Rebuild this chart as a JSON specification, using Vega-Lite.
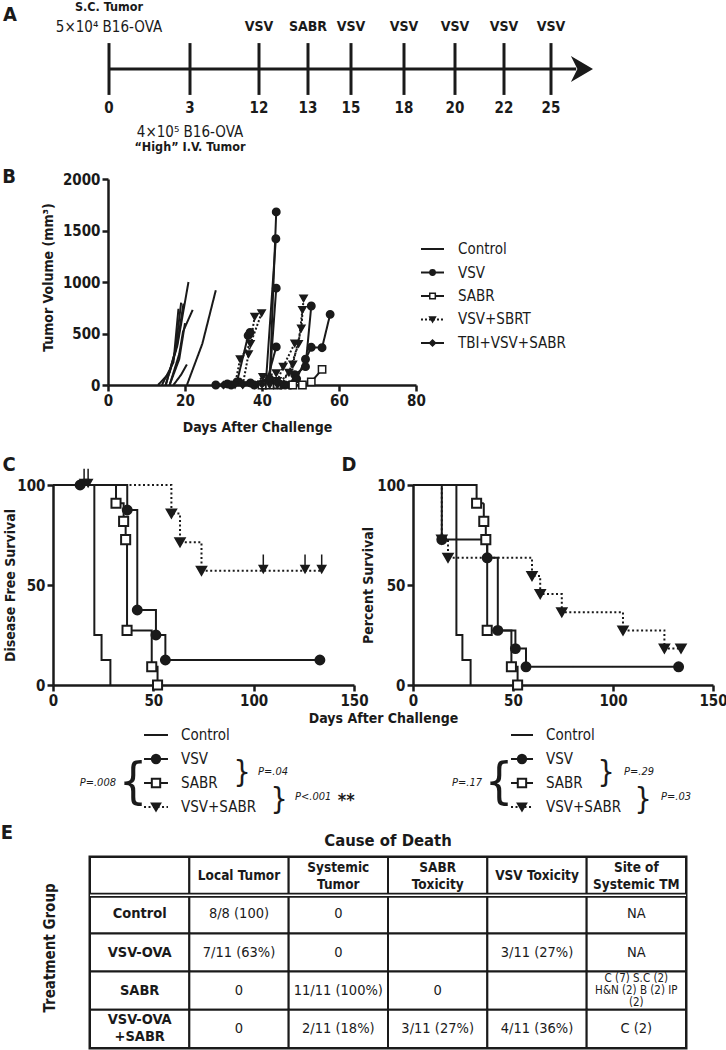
{
 "$schema": "https://vega.github.io/schema/vega-lite/v6.json",
 "padding": 0,
 "background": "white",
 "bounds": "flush",
 "spacing": 0,
 "resolve": {"scale": {"shape": "independent", "fill": "independent", "size": "independent", "strokeDash": "independent"}},
 "config": {
  "font": "Liberation Sans Narrow, DejaVu Sans Condensed, Liberation Sans, sans-serif",
  "view": {"stroke": null},
  "text": {"color": "#1a1a1a"},
  "axis": {"domainColor": "#1a1a1a", "domainWidth": 2.5, "tickColor": "#1a1a1a", "tickWidth": 2.5, "tickSize": 6, "labelFontSize": 15, "labelFontWeight": "bold", "labelColor": "#1a1a1a", "labelPadding": 2, "labelFlush": false, "labelOverlap": false, "titleFontSize": 14, "titleFontWeight": "bold", "titleColor": "#1a1a1a", "grid": false, "format": "d"},
  "title": {"color": "#1a1a1a"}
 },
 "datasets": {
  "tumor": [
   {"mouse":"c1","group":"Control","day":13,"vol":0},{"mouse":"c1","group":"Control","day":16,"vol":120},{"mouse":"c1","group":"Control","day":18,"vol":380},{"mouse":"c1","group":"Control","day":20.9,"vol":1000},
   {"mouse":"c2","group":"Control","day":14,"vol":0},{"mouse":"c2","group":"Control","day":17,"vol":220},{"mouse":"c2","group":"Control","day":18.3,"vol":740},
   {"mouse":"c3","group":"Control","day":15,"vol":0},{"mouse":"c3","group":"Control","day":17.5,"vol":330},{"mouse":"c3","group":"Control","day":19,"vol":800},
   {"mouse":"c4","group":"Control","day":15,"vol":0},{"mouse":"c4","group":"Control","day":18,"vol":400},{"mouse":"c4","group":"Control","day":19.6,"vol":790},
   {"mouse":"c5","group":"Control","day":16,"vol":0},{"mouse":"c5","group":"Control","day":18.5,"vol":300},{"mouse":"c5","group":"Control","day":19.5,"vol":520},{"mouse":"c5","group":"Control","day":22,"vol":730},
   {"mouse":"c6","group":"Control","day":16,"vol":0},{"mouse":"c6","group":"Control","day":18.5,"vol":250},{"mouse":"c6","group":"Control","day":20,"vol":600},
   {"mouse":"c7","group":"Control","day":17,"vol":0},{"mouse":"c7","group":"Control","day":19,"vol":100},{"mouse":"c7","group":"Control","day":20.5,"vol":200},
   {"mouse":"c8","group":"Control","day":20.5,"vol":0},{"mouse":"c8","group":"Control","day":24.5,"vol":400},{"mouse":"c8","group":"Control","day":28,"vol":920},
   {"mouse":"v1","group":"VSV","day":28,"vol":0},{"mouse":"v1","group":"VSV","day":31,"vol":10},{"mouse":"v1","group":"VSV","day":34,"vol":30},{"mouse":"v1","group":"VSV","day":37,"vol":20},{"mouse":"v1","group":"VSV","day":40,"vol":10},{"mouse":"v1","group":"VSV","day":42,"vol":40},{"mouse":"v1","group":"VSV","day":43.7,"vol":1680},
   {"mouse":"v2","group":"VSV","day":38,"vol":0},{"mouse":"v2","group":"VSV","day":41,"vol":20},{"mouse":"v2","group":"VSV","day":43.6,"vol":1420},
   {"mouse":"v3","group":"VSV","day":40,"vol":0},{"mouse":"v3","group":"VSV","day":42,"vol":60},{"mouse":"v3","group":"VSV","day":43.7,"vol":940},
   {"mouse":"v4","group":"VSV","day":41,"vol":0},{"mouse":"v4","group":"VSV","day":43.7,"vol":370},
   {"mouse":"v5","group":"VSV","day":32,"vol":0},{"mouse":"v5","group":"VSV","day":33.5,"vol":30},{"mouse":"v5","group":"VSV","day":36.4,"vol":480},{"mouse":"v5","group":"VSV","day":36.9,"vol":510},
   {"mouse":"v6","group":"VSV","day":45,"vol":0},{"mouse":"v6","group":"VSV","day":47.3,"vol":0},{"mouse":"v6","group":"VSV","day":48.5,"vol":100},{"mouse":"v6","group":"VSV","day":51.3,"vol":178},{"mouse":"v6","group":"VSV","day":52.8,"vol":767},
   {"mouse":"v7","group":"VSV","day":46,"vol":0},{"mouse":"v7","group":"VSV","day":49,"vol":60},{"mouse":"v7","group":"VSV","day":51.3,"vol":250},{"mouse":"v7","group":"VSV","day":52.8,"vol":366},{"mouse":"v7","group":"VSV","day":55.6,"vol":362},{"mouse":"v7","group":"VSV","day":57.7,"vol":686},
   {"mouse":"s1","group":"SABR","day":44,"vol":0},{"mouse":"s1","group":"SABR","day":48,"vol":0},{"mouse":"s1","group":"SABR","day":50.5,"vol":0},{"mouse":"s1","group":"SABR","day":52.8,"vol":30},{"mouse":"s1","group":"SABR","day":55.6,"vol":152},
   {"mouse":"s2","group":"SABR","day":40,"vol":0},{"mouse":"s2","group":"SABR","day":42,"vol":0},{"mouse":"s2","group":"SABR","day":44,"vol":5},
   {"mouse":"t1","group":"VSV+SBRT","day":33,"vol":0},{"mouse":"t1","group":"VSV+SBRT","day":34.3,"vol":252},{"mouse":"t1","group":"VSV+SBRT","day":37,"vol":400},{"mouse":"t1","group":"VSV+SBRT","day":39.9,"vol":698},
   {"mouse":"t2","group":"VSV+SBRT","day":35,"vol":0},{"mouse":"t2","group":"VSV+SBRT","day":36.5,"vol":300},{"mouse":"t2","group":"VSV+SBRT","day":38.1,"vol":663},
   {"mouse":"t3","group":"VSV+SBRT","day":42,"vol":0},{"mouse":"t3","group":"VSV+SBRT","day":44,"vol":40},{"mouse":"t3","group":"VSV+SBRT","day":45.5,"vol":178},{"mouse":"t3","group":"VSV+SBRT","day":48.5,"vol":404},
   {"mouse":"t4","group":"VSV+SBRT","day":44,"vol":0},{"mouse":"t4","group":"VSV+SBRT","day":47,"vol":120},{"mouse":"t4","group":"VSV+SBRT","day":49.5,"vol":400},{"mouse":"t4","group":"VSV+SBRT","day":50.5,"vol":730},
   {"mouse":"t5","group":"VSV+SBRT","day":45,"vol":0},{"mouse":"t5","group":"VSV+SBRT","day":48,"vol":200},{"mouse":"t5","group":"VSV+SBRT","day":50.2,"vol":550},{"mouse":"t5","group":"VSV+SBRT","day":50.8,"vol":840},
   {"mouse":"t6","group":"VSV+SBRT","day":38,"vol":0},{"mouse":"t6","group":"VSV+SBRT","day":40.2,"vol":80},{"mouse":"t6","group":"VSV+SBRT","day":43.7,"vol":115},
   {"mouse":"b1","group":"TBI+VSV+SABR","day":30,"vol":0},{"mouse":"b1","group":"TBI+VSV+SABR","day":35,"vol":5},{"mouse":"b1","group":"TBI+VSV+SABR","day":40,"vol":10},{"mouse":"b1","group":"TBI+VSV+SABR","day":44,"vol":20}
  ],
  "kmC": [
   {"group":"Control","day":0,"pct":100,"mk":""},{"group":"Control","day":20.6,"pct":25,"mk":""},{"group":"Control","day":24.2,"pct":12.5,"mk":""},{"group":"Control","day":28.6,"pct":0,"mk":""},
   {"group":"VSV","day":0,"pct":100,"mk":""},{"group":"VSV","day":13.5,"pct":100,"mk":"sym"},{"group":"VSV","day":37,"pct":87.5,"mk":"sym"},{"group":"VSV","day":42,"pct":37.5,"mk":"sym"},{"group":"VSV","day":51.3,"pct":25,"mk":"sym"},{"group":"VSV","day":56,"pct":12.5,"mk":"sym"},{"group":"VSV","day":133,"pct":12.5,"mk":"sym"},
   {"group":"SABR","day":0,"pct":100,"mk":""},{"group":"SABR","day":31.4,"pct":90.9,"mk":"sym"},{"group":"SABR","day":35.2,"pct":81.8,"mk":"sym"},{"group":"SABR","day":36.2,"pct":72.7,"mk":"sym"},{"group":"SABR","day":36.9,"pct":27.3,"mk":"sym"},{"group":"SABR","day":49.2,"pct":9.1,"mk":"sym"},{"group":"SABR","day":52.1,"pct":0,"mk":"sym"},
   {"group":"VSV+SABR","day":0,"pct":100,"mk":""},{"group":"VSV+SABR","day":15.5,"pct":100,"mk":"cens"},{"group":"VSV+SABR","day":17.5,"pct":100,"mk":"cens"},{"group":"VSV+SABR","day":59,"pct":85.7,"mk":"sym"},{"group":"VSV+SABR","day":63.3,"pct":71.4,"mk":"sym"},{"group":"VSV+SABR","day":74,"pct":57.1,"mk":"sym"},{"group":"VSV+SABR","day":104.8,"pct":57.1,"mk":"cens"},{"group":"VSV+SABR","day":125.6,"pct":57.1,"mk":"cens"},{"group":"VSV+SABR","day":133.9,"pct":57.1,"mk":"cens"}
  ],
  "kmD": [
   {"group":"Control","day":0,"pct":100,"mk":""},{"group":"Control","day":21.7,"pct":25,"mk":""},{"group":"Control","day":24.7,"pct":12.5,"mk":""},{"group":"Control","day":28.8,"pct":0,"mk":""},
   {"group":"VSV","day":0,"pct":100,"mk":""},{"group":"VSV","day":14.4,"pct":72.7,"mk":"sym"},{"group":"VSV","day":37.1,"pct":63.6,"mk":"sym"},{"group":"VSV","day":42.4,"pct":27.3,"mk":"sym"},{"group":"VSV","day":51.2,"pct":18.2,"mk":"sym"},{"group":"VSV","day":56.5,"pct":9.1,"mk":"sym"},{"group":"VSV","day":132.8,"pct":9.1,"mk":"sym"},
   {"group":"SABR","day":0,"pct":100,"mk":""},{"group":"SABR","day":31.8,"pct":90.9,"mk":"sym"},{"group":"SABR","day":35.4,"pct":81.8,"mk":"sym"},{"group":"SABR","day":36.4,"pct":72.7,"mk":"sym"},{"group":"SABR","day":37.1,"pct":27.3,"mk":"sym"},{"group":"SABR","day":49.2,"pct":9.1,"mk":"sym"},{"group":"SABR","day":52.3,"pct":0,"mk":"sym"},
   {"group":"VSV+SABR","day":0,"pct":100,"mk":""},{"group":"VSV+SABR","day":14.4,"pct":72.7,"mk":"sym"},{"group":"VSV+SABR","day":17.5,"pct":63.6,"mk":"sym"},{"group":"VSV+SABR","day":59.5,"pct":54.5,"mk":"sym"},{"group":"VSV+SABR","day":63.6,"pct":45.5,"mk":"sym"},{"group":"VSV+SABR","day":74.4,"pct":36.4,"mk":"sym"},{"group":"VSV+SABR","day":105,"pct":27.3,"mk":"sym"},{"group":"VSV+SABR","day":125.7,"pct":18.2,"mk":"sym"},{"group":"VSV+SABR","day":134,"pct":18.2,"mk":"sym"}
  ],
  "legB": [
   {"group":"Control","order":0},{"group":"VSV","order":1},{"group":"SABR","order":2},{"group":"VSV+SBRT","order":3},{"group":"TBI+VSV+SABR","order":4}
  ],
  "legCD": [
   {"group":"Control","order":0},{"group":"VSV","order":1},{"group":"SABR","order":2},{"group":"VSV+SABR","order":3}
  ],
  "table": [
   {"row":"r0","col":"c0","txt":"","kind":"head"},
   {"row":"r0","col":"c1","txt":"Local Tumor","kind":"head"},
   {"row":"r0","col":"c2","txt":["Systemic","Tumor"],"kind":"head2"},
   {"row":"r0","col":"c3","txt":["SABR","Toxicity"],"kind":"head2"},
   {"row":"r0","col":"c4","txt":"VSV Toxicity","kind":"head"},
   {"row":"r0","col":"c5","txt":["Site of","Systemic TM"],"kind":"head2"},
   {"row":"r1","col":"c0","txt":"Control","kind":"rowlab"},
   {"row":"r1","col":"c1","txt":"8/8 (100)","kind":"body"},
   {"row":"r1","col":"c2","txt":"0","kind":"body"},
   {"row":"r1","col":"c3","txt":"","kind":"body"},
   {"row":"r1","col":"c4","txt":"","kind":"body"},
   {"row":"r1","col":"c5","txt":"NA","kind":"body"},
   {"row":"r2","col":"c0","txt":"VSV-OVA","kind":"rowlab"},
   {"row":"r2","col":"c1","txt":"7/11 (63%)","kind":"body"},
   {"row":"r2","col":"c2","txt":"0","kind":"body"},
   {"row":"r2","col":"c3","txt":"","kind":"body"},
   {"row":"r2","col":"c4","txt":"3/11 (27%)","kind":"body"},
   {"row":"r2","col":"c5","txt":"NA","kind":"body"},
   {"row":"r3","col":"c0","txt":"SABR","kind":"rowlab"},
   {"row":"r3","col":"c1","txt":"0","kind":"body"},
   {"row":"r3","col":"c2","txt":"11/11 (100%)","kind":"body"},
   {"row":"r3","col":"c3","txt":"0","kind":"body"},
   {"row":"r3","col":"c4","txt":"","kind":"body"},
   {"row":"r3","col":"c5","txt":["C (7) S.C (2)","H&N (2) B (2) IP","(2)"],"kind":"small"},
   {"row":"r4","col":"c0","txt":["VSV-OVA","+SABR"],"kind":"rowlab2"},
   {"row":"r4","col":"c1","txt":"0","kind":"body"},
   {"row":"r4","col":"c2","txt":"2/11 (18%)","kind":"body"},
   {"row":"r4","col":"c3","txt":"3/11 (27%)","kind":"body"},
   {"row":"r4","col":"c4","txt":"4/11 (36%)","kind":"body"},
   {"row":"r4","col":"c5","txt":"C (2)","kind":"body"}
  ]
 },
 "vconcat": [
  {
   "width": 726, "height": 179,
   "layer": [
    {"data": {"values": [{"k": 1}]}, "mark": {"type": "rule", "strokeWidth": 3, "color": "#1a1a1a"},
     "encoding": {"x": {"datum": 0, "type": "quantitative", "scale": {"type": "linear", "domain": [-10,0,3,12,13,15,18,20,22,25,27], "range": [9,108,189,258,307,350,403,454,503,550,592], "nice": false, "zero": false}, "axis": null}, "x2": {"datum": 26.2},
      "y": {"datum": 0, "type": "quantitative", "scale": {"type": "linear", "domain": [-4.074, 2.556], "nice": false, "zero": false}, "axis": null}}},
    {"data": {"values": [{"day":0},{"day":3},{"day":12},{"day":13},{"day":15},{"day":18},{"day":20},{"day":22},{"day":25}]},
     "layer": [
      {"mark": {"type": "rule", "strokeWidth": 3, "color": "#1a1a1a"},
       "encoding": {"x": {"field": "day", "type": "quantitative", "axis": null}, "y": {"datum": -0.96, "type": "quantitative", "axis": null}, "y2": {"datum": 0.96}}},
      {"mark": {"type": "text", "fontSize": 15, "fontWeight": "bold", "baseline": "middle"},
       "encoding": {"x": {"field": "day", "type": "quantitative", "axis": null}, "y": {"datum": -1.444, "type": "quantitative", "axis": null}, "text": {"field": "day", "type": "quantitative"}}}
     ]},
    {"data": {"values": [{"day":12,"event":"VSV"},{"day":13,"event":"SABR"},{"day":15,"event":"VSV"},{"day":18,"event":"VSV"},{"day":20,"event":"VSV"},{"day":22,"event":"VSV"},{"day":25,"event":"VSV"}]},
     "mark": {"type": "text", "fontSize": 14, "fontWeight": "bold", "baseline": "middle"},
     "encoding": {"x": {"field": "day", "type": "quantitative", "axis": null}, "y": {"datum": 1.556, "type": "quantitative", "axis": null}, "text": {"field": "event"}}},
    {"data": {"values": [{"k": 1}]}, "mark": {"type": "point", "shape": "M-1.7,-1L0,0L-1.7,1L-1.2,0Z", "size": 676, "filled": true, "color": "#1a1a1a", "opacity": 1},
     "encoding": {"x": {"datum": 27, "type": "quantitative", "axis": null}, "y": {"datum": 0, "type": "quantitative", "axis": null}}},
    {"data": {"values": [{"t": "S.C. Tumor"}]}, "mark": {"type": "text", "fontSize": 12.5, "fontWeight": "bold", "baseline": "top"},
     "encoding": {"x": {"datum": 0, "type": "quantitative", "axis": null}, "y": {"datum": 2.53, "type": "quantitative", "axis": null}, "text": {"field": "t"}}},
    {"data": {"values": [{"t": "5×10⁴ B16-OVA"}]}, "mark": {"type": "text", "fontSize": 15, "baseline": "middle"},
     "encoding": {"x": {"datum": 0, "type": "quantitative", "axis": null}, "y": {"datum": 1.556, "type": "quantitative", "axis": null}, "text": {"field": "t"}}},
    {"data": {"values": [{"t": "4×10⁵ B16-OVA"}]}, "mark": {"type": "text", "fontSize": 15, "baseline": "middle"},
     "encoding": {"x": {"datum": 3, "type": "quantitative", "axis": null}, "y": {"datum": -2.333, "type": "quantitative", "axis": null}, "text": {"field": "t"}}},
    {"data": {"values": [{"t": "“High” I.V. Tumor"}]}, "mark": {"type": "text", "fontSize": 12.5, "fontWeight": "bold", "baseline": "middle"},
     "encoding": {"x": {"datum": 3, "type": "quantitative", "axis": null}, "y": {"datum": -2.889, "type": "quantitative", "axis": null}, "text": {"field": "t"}}},
    {"data": {"values": [{"t": "A"}]}, "mark": {"type": "text", "fontSize": 20, "fontWeight": "bold", "baseline": "middle"},
     "encoding": {"x": {"datum": -10, "type": "quantitative", "axis": null}, "y": {"datum": 2.0, "type": "quantitative", "axis": null}, "text": {"field": "t"}}}
   ]
  },
  {
   "bounds": "flush", "spacing": 0,
   "hconcat": [
    {"width": 107, "height": 206, "data": {"values": [{"t": "B"}]},
     "mark": {"type": "text", "fontSize": 20, "fontWeight": "bold", "baseline": "middle"},
     "encoding": {"x": {"datum": 0.075, "type": "quantitative", "scale": {"domain": [0,1], "nice": false, "zero": false}, "axis": null},
      "y": {"datum": 1.01, "type": "quantitative", "scale": {"domain": [0,1], "nice": false, "zero": false}, "axis": null}, "text": {"field": "t"}}},
    {"width": 308, "height": 206, "data": {"name": "tumor"},
     "layer": [
      {"mark": {"type": "line", "strokeWidth": 2, "color": "#1a1a1a"},
       "encoding": {
        "x": {"field": "day", "type": "quantitative", "scale": {"domain": [0,80], "nice": false, "zero": false}, "axis": {"values": [0,20,40,60,80], "title": "Days After Challenge", "titleX": 149, "titleY": 42, "titleBaseline": "middle", "titleAlign": "center"}},
        "y": {"field": "vol", "type": "quantitative", "scale": {"domain": [0,2000], "nice": false, "zero": false}, "axis": {"values": [0,500,1000,1500,2000], "title": "Tumor Volume (mm³)", "titleX": -60, "titleY": 98, "titleBaseline": "middle", "titleAlign": "center", "titleAngle": 270}},
        "detail": {"field": "mouse"},
        "strokeDash": {"field": "group", "type": "nominal", "scale": {"domain": ["Control","VSV","SABR","VSV+SBRT","TBI+VSV+SABR"], "range": [[1,0],[1,0],[1,0],[2,2],[1,0]]}, "legend": null}}},
      {"transform": [{"filter": "datum.group != 'Control'"}],
       "mark": {"type": "point", "filled": true, "opacity": 1, "stroke": "#1a1a1a", "strokeWidth": 1.5},
       "encoding": {
        "x": {"field": "day", "type": "quantitative"},
        "y": {"field": "vol", "type": "quantitative"},
        "shape": {"field": "group", "type": "nominal", "scale": {"domain": ["VSV","SABR","VSV+SBRT","TBI+VSV+SABR"], "range": ["circle","square","triangle-down","diamond"]}, "legend": null},
        "fill": {"field": "group", "type": "nominal", "scale": {"domain": ["VSV","SABR","VSV+SBRT","TBI+VSV+SABR"], "range": ["#1a1a1a","white","#1a1a1a","#1a1a1a"]}, "legend": null},
        "size": {"field": "group", "type": "nominal", "scale": {"domain": ["VSV","SABR","VSV+SBRT","TBI+VSV+SABR"], "range": [55,50,40,15]}, "legend": null}}}
     ]}
   ]
  },
  {"width": 726, "height": 306, "data": {"name": "legB"},
   "layer": [
    {"mark": {"type": "rule", "strokeWidth": 2, "color": "#1a1a1a"},
     "encoding": {"x": {"datum": 57.85, "type": "quantitative", "scale": {"domain": [0,100], "nice": false, "zero": false}, "axis": null}, "x2": {"datum": 61.02},
      "y": {"field": "order", "type": "quantitative", "scale": {"domain": [-2.979, 10.043], "reverse": true, "nice": false, "zero": false}, "axis": null},
      "strokeDash": {"field": "group", "type": "nominal", "scale": {"domain": ["Control","VSV","SABR","VSV+SBRT","TBI+VSV+SABR"], "range": [[1,0],[1,0],[1,0],[2,2],[1,0]]}, "legend": null}}},
    {"transform": [{"filter": "datum.group != 'Control'"}],
     "mark": {"type": "point", "filled": true, "opacity": 1, "stroke": "#1a1a1a", "strokeWidth": 1.5},
     "encoding": {"x": {"datum": 59.44, "type": "quantitative", "axis": null}, "y": {"field": "order", "type": "quantitative", "axis": null},
      "shape": {"field": "group", "type": "nominal", "scale": {"domain": ["VSV","SABR","VSV+SBRT","TBI+VSV+SABR"], "range": ["circle","square","triangle-down","diamond"]}, "legend": null},
      "fill": {"field": "group", "type": "nominal", "scale": {"domain": ["VSV","SABR","VSV+SBRT","TBI+VSV+SABR"], "range": ["#1a1a1a","white","#1a1a1a","#1a1a1a"]}, "legend": null},
      "size": {"field": "group", "type": "nominal", "scale": {"domain": ["VSV","SABR","VSV+SBRT","TBI+VSV+SABR"], "range": [28,36,20,12]}, "legend": null}}},
    {"mark": {"type": "text", "fontSize": 15, "align": "left", "baseline": "middle"},
     "encoding": {"x": {"datum": 62.95, "type": "quantitative", "axis": null}, "y": {"field": "order", "type": "quantitative", "axis": null}, "text": {"field": "group"}}}
   ]
  },
  {
   "bounds": "flush", "spacing": 0,
   "hconcat": [
    {"width": 52, "height": 200, "data": {"values": [{"t": "C"}]},
     "mark": {"type": "text", "fontSize": 20, "fontWeight": "bold", "baseline": "middle"},
     "encoding": {"x": {"datum": 0.154, "type": "quantitative", "scale": {"domain": [0,1], "nice": false, "zero": false}, "axis": null},
      "y": {"datum": 1.10, "type": "quantitative", "scale": {"domain": [0,1], "nice": false, "zero": false}, "axis": null}, "text": {"field": "t"}}},
    {"width": 301, "height": 200, "data": {"name": "kmC"},
     "layer": [
      {"mark": {"type": "line", "interpolate": "step-after", "strokeWidth": 2, "color": "#1a1a1a"},
       "encoding": {
        "x": {"field": "day", "type": "quantitative", "scale": {"domain": [0,150], "nice": false, "zero": false}, "axis": {"values": [0,50,100,150], "title": "Days After Challenge", "titleX": 330, "titleY": 33, "titleBaseline": "middle", "titleAlign": "center"}},
        "y": {"field": "pct", "type": "quantitative", "scale": {"domain": [0,100], "nice": false, "zero": false}, "axis": {"values": [0,50,100], "title": "Disease Free Survival", "titleX": -43, "titleY": 100, "titleBaseline": "middle", "titleAlign": "center", "titleAngle": 270}},
        "detail": {"field": "group"},
        "strokeDash": {"field": "group", "type": "nominal", "scale": {"domain": ["Control","VSV","SABR","VSV+SABR"], "range": [[1,0],[1,0],[1,0],[2,2.5]]}, "legend": null}}},
      {"transform": [{"filter": "datum.mk == 'sym'"}],
       "mark": {"type": "point", "filled": true, "opacity": 1, "stroke": "#1a1a1a", "strokeWidth": 2},
       "encoding": {"x": {"field": "day", "type": "quantitative"}, "y": {"field": "pct", "type": "quantitative"},
        "shape": {"field": "group", "type": "nominal", "scale": {"domain": ["VSV","SABR","VSV+SABR"], "range": ["circle","square","triangle-down"]}, "legend": null},
        "fill": {"field": "group", "type": "nominal", "scale": {"domain": ["VSV","SABR","VSV+SABR"], "range": ["#1a1a1a","white","#1a1a1a"]}, "legend": null},
        "size": {"field": "group", "type": "nominal", "scale": {"domain": ["VSV","SABR","VSV+SABR"], "range": [80,85,65]}, "legend": null}}},
      {"transform": [{"filter": "datum.mk == 'cens'"}],
       "mark": {"type": "point", "shape": "M0,-1.8L0,-0.4M-0.45,-0.6L0.45,-0.6L0,0.2Z", "size": 324, "filled": true, "opacity": 1, "color": "#1a1a1a", "stroke": "#1a1a1a", "strokeWidth": 1.5},
       "encoding": {"x": {"field": "day", "type": "quantitative"}, "y": {"field": "pct", "type": "quantitative"}}}
     ]},
    {"width": 59, "height": 200, "data": {"values": [{"t": "D"}]},
     "mark": {"type": "text", "fontSize": 20, "fontWeight": "bold", "baseline": "middle"},
     "encoding": {"x": {"datum": -0.085, "type": "quantitative", "scale": {"domain": [0,1], "nice": false, "zero": false}, "axis": null},
      "y": {"datum": 1.10, "type": "quantitative", "scale": {"domain": [0,1], "nice": false, "zero": false}, "axis": null}, "text": {"field": "t"}}},
    {"width": 300, "height": 200, "data": {"name": "kmD"},
     "layer": [
      {"mark": {"type": "line", "interpolate": "step-after", "strokeWidth": 2, "color": "#1a1a1a"},
       "encoding": {
        "x": {"field": "day", "type": "quantitative", "scale": {"domain": [0,150], "nice": false, "zero": false}, "axis": {"values": [0,50,100,150], "title": null}},
        "y": {"field": "pct", "type": "quantitative", "scale": {"domain": [0,100], "nice": false, "zero": false}, "axis": {"values": [0,50,100], "title": "Percent Survival", "titleX": -45, "titleY": 100, "titleBaseline": "middle", "titleAlign": "center", "titleAngle": 270}},
        "detail": {"field": "group"},
        "strokeDash": {"field": "group", "type": "nominal", "scale": {"domain": ["Control","VSV","SABR","VSV+SABR"], "range": [[1,0],[1,0],[1,0],[2,2.5]]}, "legend": null}}},
      {"transform": [{"filter": "datum.mk == 'sym'"}],
       "mark": {"type": "point", "filled": true, "opacity": 1, "stroke": "#1a1a1a", "strokeWidth": 2},
       "encoding": {"x": {"field": "day", "type": "quantitative"}, "y": {"field": "pct", "type": "quantitative"},
        "shape": {"field": "group", "type": "nominal", "scale": {"domain": ["VSV","SABR","VSV+SABR"], "range": ["circle","square","triangle-down"]}, "legend": null},
        "fill": {"field": "group", "type": "nominal", "scale": {"domain": ["VSV","SABR","VSV+SABR"], "range": ["#1a1a1a","white","#1a1a1a"]}, "legend": null},
        "size": {"field": "group", "type": "nominal", "scale": {"domain": ["VSV","SABR","VSV+SABR"], "range": [80,85,65]}, "legend": null}}}
     ]}
   ]
  },
  {
   "width": 726, "height": 372, "data": {"name": "legCD"},
   "layer": [
    {"mark": {"type": "rule", "strokeWidth": 2, "color": "#1a1a1a"},
     "encoding": {"x": {"datum": 19.7, "type": "quantitative", "scale": {"domain": [0,100], "nice": false, "zero": false}, "axis": null}, "x2": {"datum": 23.0},
      "y": {"field": "order", "type": "quantitative", "scale": {"domain": [-10.4167, 5.0833], "reverse": true, "nice": false, "zero": false}, "axis": null},
      "strokeDash": {"field": "group", "type": "nominal", "scale": {"domain": ["Control","VSV","SABR","VSV+SABR"], "range": [[1,0],[1,0],[1,0],[2,2.5]]}, "legend": null}}},
    {"mark": {"type": "rule", "strokeWidth": 2, "color": "#1a1a1a"},
     "encoding": {"x": {"datum": 70.25, "type": "quantitative", "axis": null}, "x2": {"datum": 73.28},
      "y": {"field": "order", "type": "quantitative", "axis": null},
      "strokeDash": {"field": "group", "type": "nominal", "legend": null}}},
    {"transform": [{"filter": "datum.group != 'Control'"}],
     "mark": {"type": "point", "filled": true, "opacity": 1, "stroke": "#1a1a1a", "strokeWidth": 2},
     "encoding": {"x": {"datum": 21.35, "type": "quantitative", "axis": null}, "y": {"field": "order", "type": "quantitative", "axis": null},
      "shape": {"field": "group", "type": "nominal", "scale": {"domain": ["VSV","SABR","VSV+SABR"], "range": ["circle","square","triangle-down"]}, "legend": null},
      "fill": {"field": "group", "type": "nominal", "scale": {"domain": ["VSV","SABR","VSV+SABR"], "range": ["#1a1a1a","white","#1a1a1a"]}, "legend": null},
      "size": {"field": "group", "type": "nominal", "scale": {"domain": ["VSV","SABR","VSV+SABR"], "range": [70,70,55]}, "legend": null}}},
    {"transform": [{"filter": "datum.group != 'Control'"}],
     "mark": {"type": "point", "filled": true, "opacity": 1, "stroke": "#1a1a1a", "strokeWidth": 2},
     "encoding": {"x": {"datum": 71.76, "type": "quantitative", "axis": null}, "y": {"field": "order", "type": "quantitative", "axis": null},
      "shape": {"field": "group", "type": "nominal", "legend": null},
      "fill": {"field": "group", "type": "nominal", "legend": null},
      "size": {"field": "group", "type": "nominal", "legend": null}}},
    {"mark": {"type": "text", "fontSize": 15, "align": "left", "baseline": "middle"},
     "encoding": {"x": {"datum": 24.79, "type": "quantitative", "axis": null}, "y": {"field": "order", "type": "quantitative", "axis": null}, "text": {"field": "group"}}},
    {"mark": {"type": "text", "fontSize": 15, "align": "left", "baseline": "middle"},
     "encoding": {"x": {"datum": 75.07, "type": "quantitative", "axis": null}, "y": {"field": "order", "type": "quantitative", "axis": null}, "text": {"field": "group"}}},
    {"data": {"values": [{"t": "P=.008"}]}, "mark": {"type": "text", "fontSize": 11, "fontStyle": "italic", "align": "right", "baseline": "middle"},
     "encoding": {"x": {"datum": 15.84, "type": "quantitative", "axis": null}, "y": {"datum": 2, "type": "quantitative", "axis": null}, "text": {"field": "t"}}},
    {"data": {"values": [{"t": "{"}]}, "mark": {"type": "text", "fontSize": 50, "align": "center", "baseline": "middle"},
     "encoding": {"x": {"datum": 18.18, "type": "quantitative", "axis": null}, "y": {"datum": 2, "type": "quantitative", "axis": null}, "text": {"field": "t"}}},
    {"data": {"values": [{"t": "}"}]}, "mark": {"type": "text", "fontSize": 30, "align": "center", "baseline": "middle"},
     "encoding": {"x": {"datum": 33.2, "type": "quantitative", "axis": null}, "y": {"datum": 1.58, "type": "quantitative", "axis": null}, "text": {"field": "t"}}},
    {"data": {"values": [{"t": "P=.04"}]}, "mark": {"type": "text", "fontSize": 11, "fontStyle": "italic", "align": "left", "baseline": "middle"},
     "encoding": {"x": {"datum": 35.4, "type": "quantitative", "axis": null}, "y": {"datum": 1.54, "type": "quantitative", "axis": null}, "text": {"field": "t"}}},
    {"data": {"values": [{"t": "}"}]}, "mark": {"type": "text", "fontSize": 30, "align": "center", "baseline": "middle"},
     "encoding": {"x": {"datum": 38.29, "type": "quantitative", "axis": null}, "y": {"datum": 2.71, "type": "quantitative", "axis": null}, "text": {"field": "t"}}},
    {"data": {"values": [{"t": "P<.001"}]}, "mark": {"type": "text", "fontSize": 11, "fontStyle": "italic", "align": "left", "baseline": "middle"},
     "encoding": {"x": {"datum": 40.5, "type": "quantitative", "axis": null}, "y": {"datum": 2.58, "type": "quantitative", "axis": null}, "text": {"field": "t"}}},
    {"data": {"values": [{"t": "**"}]}, "mark": {"type": "text", "fontSize": 18, "fontWeight": "bold", "align": "left", "baseline": "middle"},
     "encoding": {"x": {"datum": 46.4, "type": "quantitative", "axis": null}, "y": {"datum": 2.75, "type": "quantitative", "axis": null}, "text": {"field": "t"}}},
    {"data": {"values": [{"t": "P=.17"}]}, "mark": {"type": "text", "fontSize": 11, "fontStyle": "italic", "align": "right", "baseline": "middle"},
     "encoding": {"x": {"datum": 66.25, "type": "quantitative", "axis": null}, "y": {"datum": 2, "type": "quantitative", "axis": null}, "text": {"field": "t"}}},
    {"data": {"values": [{"t": "{"}]}, "mark": {"type": "text", "fontSize": 50, "align": "center", "baseline": "middle"},
     "encoding": {"x": {"datum": 68.6, "type": "quantitative", "axis": null}, "y": {"datum": 2, "type": "quantitative", "axis": null}, "text": {"field": "t"}}},
    {"data": {"values": [{"t": "}"}]}, "mark": {"type": "text", "fontSize": 30, "align": "center", "baseline": "middle"},
     "encoding": {"x": {"datum": 83.33, "type": "quantitative", "axis": null}, "y": {"datum": 1.58, "type": "quantitative", "axis": null}, "text": {"field": "t"}}},
    {"data": {"values": [{"t": "P=.29"}]}, "mark": {"type": "text", "fontSize": 11, "fontStyle": "italic", "align": "left", "baseline": "middle"},
     "encoding": {"x": {"datum": 85.81, "type": "quantitative", "axis": null}, "y": {"datum": 1.54, "type": "quantitative", "axis": null}, "text": {"field": "t"}}},
    {"data": {"values": [{"t": "}"}]}, "mark": {"type": "text", "fontSize": 30, "align": "center", "baseline": "middle"},
     "encoding": {"x": {"datum": 88.43, "type": "quantitative", "axis": null}, "y": {"datum": 2.71, "type": "quantitative", "axis": null}, "text": {"field": "t"}}},
    {"data": {"values": [{"t": "P=.03"}]}, "mark": {"type": "text", "fontSize": 11, "fontStyle": "italic", "align": "left", "baseline": "middle"},
     "encoding": {"x": {"datum": 90.91, "type": "quantitative", "axis": null}, "y": {"datum": 2.58, "type": "quantitative", "axis": null}, "text": {"field": "t"}}}
   ]
  },
  {
   "bounds": "flush", "spacing": 0,
   "hconcat": [
    {"width": 89, "height": 191,
     "layer": [
      {"data": {"values": [{"t": "E"}]}, "mark": {"type": "text", "fontSize": 20, "fontWeight": "bold", "baseline": "middle"},
       "encoding": {"x": {"datum": 0.067, "type": "quantitative", "scale": {"domain": [0,1], "nice": false, "zero": false}, "axis": null},
        "y": {"datum": 1.126, "type": "quantitative", "scale": {"domain": [0,1], "nice": false, "zero": false}, "axis": null}, "text": {"field": "t"}}},
      {"data": {"values": [{"t": "Treatment Group"}]}, "mark": {"type": "text", "fontSize": 15, "fontWeight": "bold", "baseline": "middle", "angle": 270},
       "encoding": {"x": {"datum": 0.55, "type": "quantitative", "axis": null}, "y": {"datum": 0.524, "type": "quantitative", "axis": null}, "text": {"field": "t"}}}
     ]},
    {"width": 596, "height": 191, "data": {"name": "table"},
     "title": {"text": "Cause of Death", "fontSize": 16.5, "fontWeight": "bold", "offset": 7, "anchor": "middle"},
     "view": {"stroke": "#1a1a1a", "strokeWidth": 3},
     "encoding": {
      "x": {"field": "col", "type": "nominal", "scale": {"type": "band", "domain": ["c0","c1","c2","c3","c4","c5"], "paddingInner": 0, "paddingOuter": 0}, "axis": null},
      "y": {"field": "row", "type": "nominal", "scale": {"type": "band", "domain": ["r0","r1","r2","r3","r4"], "paddingInner": 0, "paddingOuter": 0}, "axis": null}
     },
     "layer": [
      {"mark": {"type": "rect", "fill": "white", "stroke": "#1a1a1a", "strokeWidth": 2}},
      {"data": {"values": [{"row": "r1"}]}, "mark": {"type": "rule", "strokeWidth": 5, "color": "#1a1a1a"},
       "encoding": {"x": null, "y": {"field": "row", "type": "nominal", "bandPosition": 0}}},
      {"data": {"values": [{"row": "r1"}]}, "mark": {"type": "rule", "strokeWidth": 1.5, "color": "white"},
       "encoding": {"x": null, "y": {"field": "row", "type": "nominal", "bandPosition": 0}}},
      {"transform": [{"filter": "datum.kind == 'head'"}], "mark": {"type": "text", "fontSize": 13.5, "fontWeight": "bold", "baseline": "middle"},
       "encoding": {"text": {"field": "txt"}}},
      {"transform": [{"filter": "datum.kind == 'head2'"}], "mark": {"type": "text", "fontSize": 13.5, "fontWeight": "bold", "lineHeight": 17, "baseline": "middle", "dy": -8.5},
       "encoding": {"text": {"field": "txt"}}},
      {"transform": [{"filter": "datum.kind == 'rowlab'"}], "mark": {"type": "text", "fontSize": 14.5, "fontWeight": "bold", "baseline": "middle"},
       "encoding": {"text": {"field": "txt"}}},
      {"transform": [{"filter": "datum.kind == 'rowlab2'"}], "mark": {"type": "text", "fontSize": 14.5, "fontWeight": "bold", "lineHeight": 17, "baseline": "middle", "dy": -8.5},
       "encoding": {"text": {"field": "txt"}}},
      {"transform": [{"filter": "datum.kind == 'body'"}], "mark": {"type": "text", "fontSize": 14.5, "baseline": "middle"},
       "encoding": {"text": {"field": "txt"}}},
      {"transform": [{"filter": "datum.kind == 'small'"}], "mark": {"type": "text", "fontSize": 11.5, "lineHeight": 12, "baseline": "middle", "dy": -12},
       "encoding": {"text": {"field": "txt"}}}
     ]}
   ]
  }
 ]
}
